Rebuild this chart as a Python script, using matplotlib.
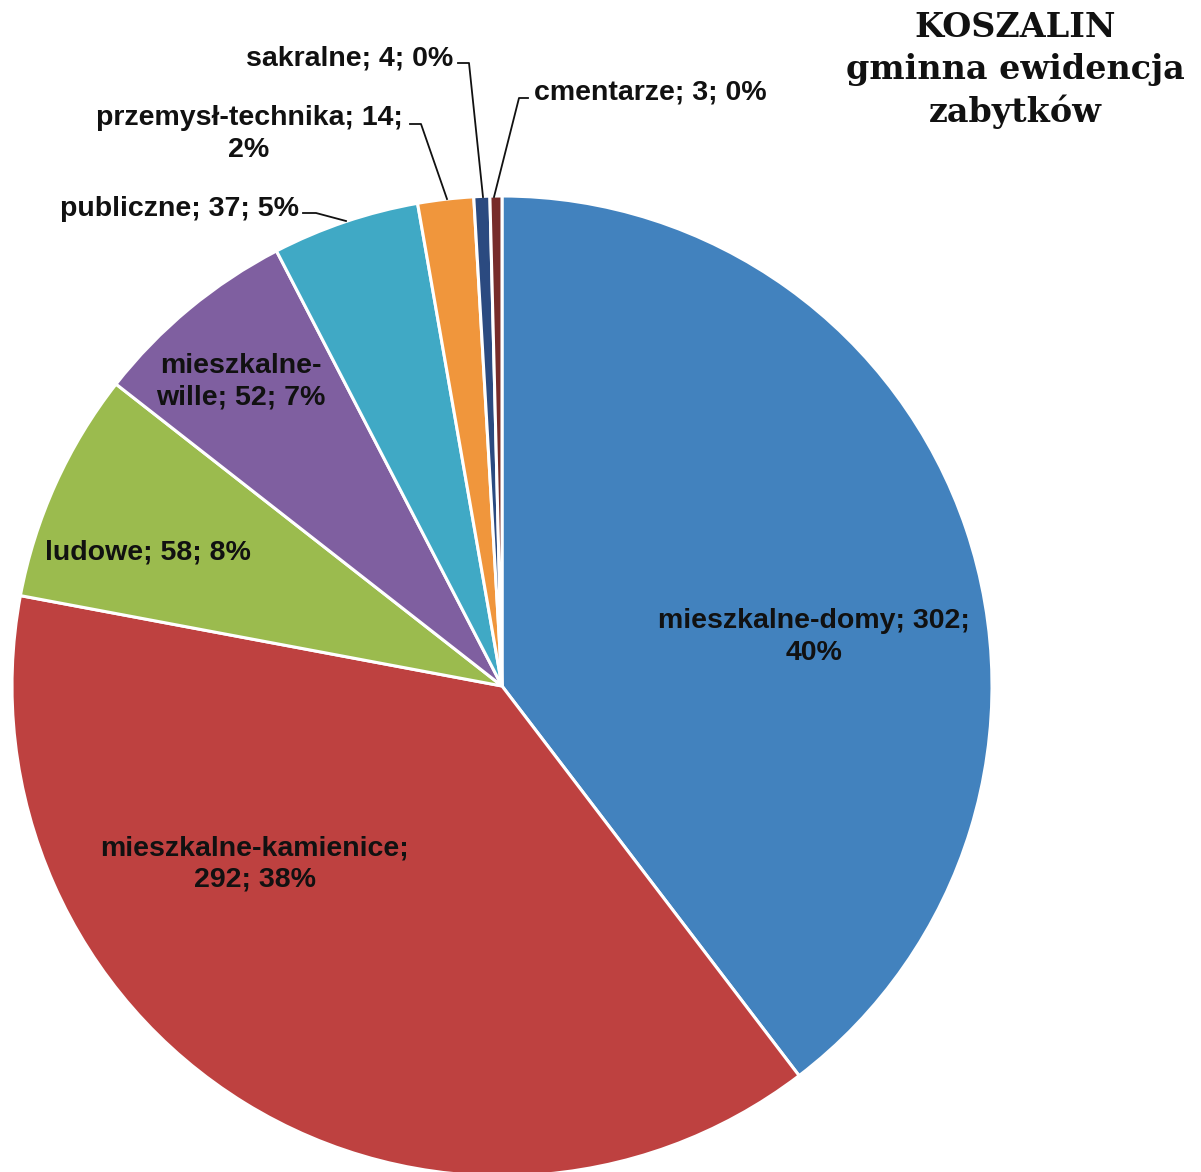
import matplotlib
matplotlib.use("Agg")
import matplotlib.pyplot as plt

categories = ["mieszkalne-domy", "mieszkalne-kamienice", "ludowe", "mieszkalne-wille",
              "publiczne", "przemysł-technika", "sakralne", "cmentarze"]
values = [302, 292, 58, 52, 37, 14, 4, 3]
percent_labels = ["40%", "38%", "8%", "7%", "5%", "2%", "0%", "0%"]
colors = ["#4282BE", "#BE4140", "#9BBB4E", "#7F5FA0", "#40A9C5", "#F0963C", "#2B4A80", "#772C2A"]
title_lines = ["KOSZALIN", "gminna ewidencja", "zabytków"]

W, H = 1201, 1172
fig = plt.figure(figsize=(W / 100, H / 100), dpi=100)
ax = fig.add_axes([0, 0, 1, 1])

cx, cy, R = 502, H - 686, 490
ax.pie(values, colors=colors, startangle=90, counterclock=False,
       center=(cx, cy), radius=R,
       wedgeprops=dict(edgecolor="white", linewidth=2.2))
ax.set_xlim(0, W)
ax.set_ylim(0, H)
ax.set_aspect("equal")
ax.axis("off")

lab_font = dict(family="Liberation Sans", fontweight="bold", fontsize=20.5,
                color="#111111", ha="center", va="center", linespacing=1.28)

def Y(y):
    return H - y

txt = [f"{c}; {v}; {p}" for c, v, p in zip(categories, values, percent_labels)]

ax.text(814, Y(637), f"{categories[0]}; {values[0]};\n{percent_labels[0]}", **lab_font)
ax.text(255, Y(864), f"{categories[1]};\n{values[1]}; {percent_labels[1]}", **lab_font)
ax.text(148, Y(552), txt[2], **lab_font)
ax.text(241, Y(382), "mieszkalne-\nwille; %d; %s" % (values[3], percent_labels[3]), **lab_font)
ax.text(179, Y(209), txt[4], **lab_font)
ax.text(249, Y(134), f"{categories[5]}; {values[5]};\n{percent_labels[5]}", **lab_font)
ax.text(350, Y(58), txt[6], **lab_font)
ax.text(650, Y(93), txt[7], **lab_font)

lk = dict(color="#111111", lw=1.3)
ax.plot([303, 316, 346], [Y(213), Y(213), Y(221)], **lk)
ax.plot([410, 421, 447], [Y(124), Y(124), Y(199)], **lk)
ax.plot([458, 469, 483], [Y(63), Y(63), Y(197)], **lk)
ax.plot([528, 519, 494], [Y(98), Y(98), Y(197)], **lk)

ax.text(1015, Y(70), "\n".join(title_lines), family="DejaVu Serif", fontweight="bold",
        fontsize=24, color="#111111", ha="center", va="center", linespacing=1.33)

fig.savefig("out.png", dpi=100, facecolor="white")
